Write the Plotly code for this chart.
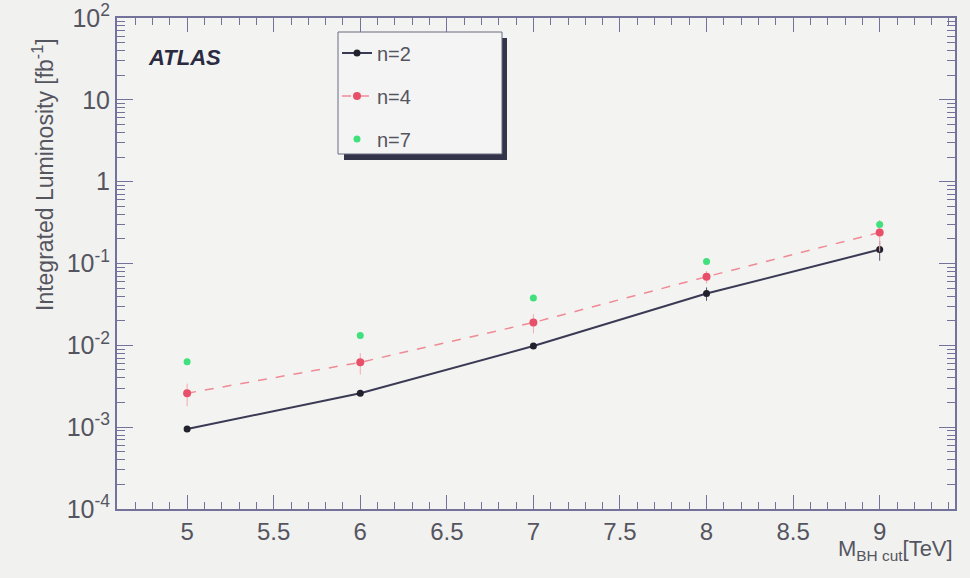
import plotly.graph_objects as go

# Black hole mass threshold [TeV]
m_cut = [5, 6, 7, 8, 9]

# Integrated luminosity needed [fb^-1] per number of extra dimensions
lumi_n2 = [0.00095, 0.0026, 0.0098, 0.043, 0.148]
lumi_n4 = [0.0026, 0.0062, 0.019, 0.069, 0.24]
lumi_n7 = [0.0063, 0.0132, 0.038, 0.106, 0.30]

# Statistical uncertainties [fb^-1]
err_n2 = [0.00005, 0.0001, 0.0005, 0.008, 0.04]
err_n4 = [0.0008, 0.0018, 0.005, 0.012, 0.10]

series_names = ["n=2", "n=4", "n=7"]

x_ticks = [5, 5.5, 6, 6.5, 7, 7.5, 8, 8.5, 9]
y_ticks = [1e-4, 1e-3, 1e-2, 1e-1, 1, 10, 100]
y_tick_text = ["10<sup>-4</sup>", "10<sup>-3</sup>", "10<sup>-2</sup>", "10<sup>-1</sup>",
               "1", "10", "10<sup>2</sup>"]
y_minor = [m * 10 ** e for e in range(-4, 2) for m in range(2, 10)]

axis_col = "#72729a"
text_col = "#55555f"
font_fam = "Liberation Sans, Arial, sans-serif"

fig = go.Figure()

fig.add_trace(go.Scatter(
    x=m_cut, y=lumi_n2, name=series_names[0], mode="lines+markers",
    line=dict(color="#3a3a55", width=2),
    marker=dict(color="#22222e", size=7),
    error_y=dict(type="data", array=err_n2, color="#55556a", thickness=1, width=0),
    legend="legend2",
))
fig.add_trace(go.Scatter(
    x=m_cut, y=lumi_n4, name=series_names[1], mode="lines+markers",
    line=dict(color="#f08a94", width=1.5, dash="dash"),
    marker=dict(color="#e8506a", size=8),
    error_y=dict(type="data", array=err_n4, color="#f4a8b0", thickness=1, width=0),
    legend="legend3",
))
fig.add_trace(go.Scatter(
    x=m_cut, y=lumi_n7, name=series_names[2], mode="markers",
    marker=dict(color="#40e07c", size=7),
    legend="legend4",
))

# Legend frame with drop shadow
fig.add_shape(type="rect", xref="paper", yref="paper",
              x0=(344 - 117) / 838, x1=(507 - 117) / 838,
              y0=(509 - 160) / 491, y1=(509 - 38) / 491,
              fillcolor="#33334a", line=dict(width=0), layer="below")
fig.add_shape(type="rect", xref="paper", yref="paper",
              x0=(338 - 117) / 838, x1=(502 - 117) / 838,
              y0=(509 - 154) / 491, y1=(509 - 32) / 491,
              fillcolor="#f4f4f4", line=dict(color="#6a6a80", width=1), layer="below")

leg_common = dict(bgcolor="rgba(0,0,0,0)", borderwidth=0,
                  font=dict(family=font_fam, size=20, color=text_col),
                  xanchor="left", yanchor="middle", itemwidth=30)
legend_rows = [53, 96, 139]
leg_x = (337 - 117) / 838

fig.update_layout(
    width=970, height=578,
    margin=dict(l=117, r=15, t=18, b=69),
    paper_bgcolor="#f1f1f0", plot_bgcolor="#f3f3f2",
    font=dict(family=font_fam, color=text_col),
    showlegend=True,
    legend2=dict(x=leg_x, y=(509 - legend_rows[0]) / 491, **leg_common),
    legend3=dict(x=leg_x, y=(509 - legend_rows[1]) / 491, **leg_common),
    legend4=dict(x=leg_x, y=(509 - legend_rows[2]) / 491, **leg_common),
    xaxis=dict(
        range=[4.595, 9.435], showgrid=False, zeroline=False, automargin=False,
        tickvals=x_ticks, ticktext=[f"{v:g}" for v in x_ticks],
        ticks="inside", ticklen=14, tickcolor=axis_col, tickwidth=1,
        minor=dict(ticks="inside", ticklen=7, dtick=0.1, tick0=0, tickcolor=axis_col,
                   tickwidth=1, showgrid=False),
        showline=True, linecolor=axis_col, linewidth=2, mirror="allticks",
        tickfont=dict(size=24, color=text_col),
    ),
    yaxis=dict(
        type="log", range=[-4, 2], showgrid=False, zeroline=False, automargin=False,
        tickvals=y_ticks, ticktext=y_tick_text,
        ticks="inside", ticklen=16, tickcolor=axis_col, tickwidth=1,
        minor=dict(ticks="inside", ticklen=8, tickmode="array", tickvals=y_minor,
                   tickcolor=axis_col, tickwidth=1, showgrid=False),
        showline=True, linecolor=axis_col, linewidth=2, mirror="allticks",
        tickfont=dict(size=25, color=text_col),
    ),
)

fig.add_annotation(text="Integrated Luminosity [fb<sup>-1</sup>]", xref="paper", yref="paper",
                   x=(43 - 117) / 838, y=(509 - 175) / 491, xanchor="center", yanchor="middle",
                   textangle=-90, showarrow=False,
                   font=dict(family=font_fam, size=23, color=text_col))
fig.add_annotation(text="<b><i>ATLAS</i></b>", xref="paper", yref="paper",
                   x=(146 - 117) / 838, y=(509 - 57) / 491, xanchor="left", yanchor="middle",
                   showarrow=False, font=dict(family=font_fam, size=22, color="#2a2a40"))
fig.add_annotation(text="M<sub>BH cut</sub>[TeV]", xref="paper", yref="paper",
                   x=1.0, y=(509 - 550) / 491, xanchor="right", yanchor="middle",
                   showarrow=False, font=dict(family=font_fam, size=22, color=text_col))

fig.write_html("out.html")
